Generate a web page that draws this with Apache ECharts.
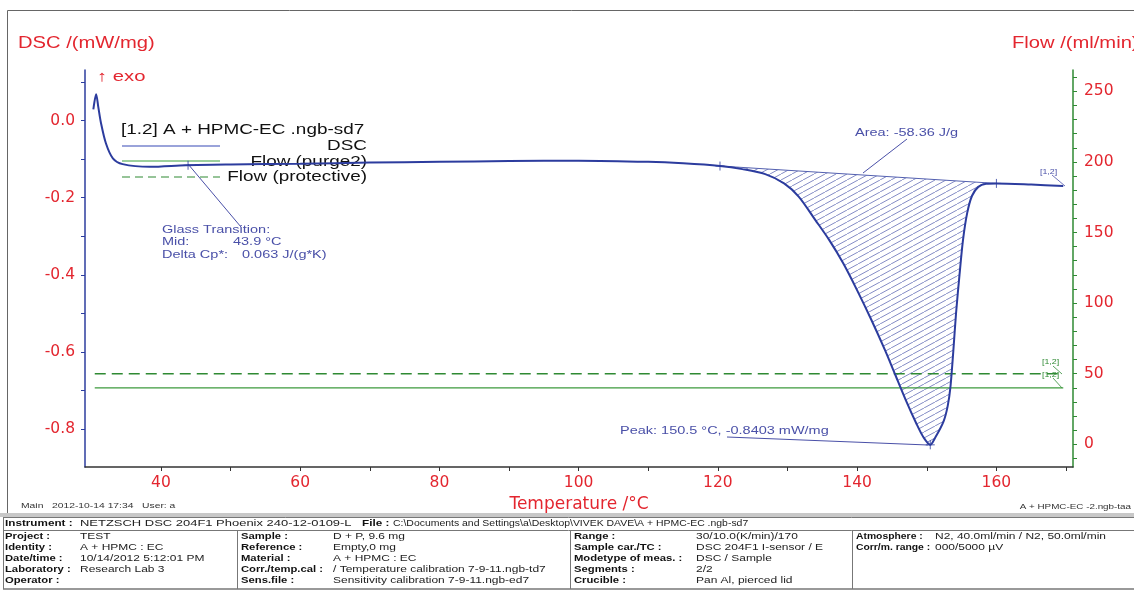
<!DOCTYPE html>
<html>
<head>
<meta charset="utf-8">
<script src="https://cdn.jsdelivr.net/npm/echarts@6/dist/echarts.min.js"></script>
<style>
  html, body { margin: 0; padding: 0; background: #fff; }
  #chart { width: 1134px; height: 590px; }
</style>
</head>
<body>
<div id="chart"></div>
<script>
  // DSC 曲线数据 (温度 °C, DSC mW/mg)
  const temps = [30.3, 30.7, 31.0, 31.4, 32.1, 33.1, 34.5, 38.4, 43.6, 50, 60, 70, 80, 90, 100, 110, 115,
    120.3, 123.5, 126.8, 129.5, 131.6, 134.0, 136.0, 138.0, 140.0, 142.0, 144.0, 145.5, 147.0, 148.5, 149.5, 150.5,
    151.2, 152.4, 153.0, 153.4, 153.8, 154.2, 154.7, 155.2, 155.8, 156.5, 157.4, 158.5, 160.0, 165, 169.6];
  const dscValues = [0.029, 0.068, 0.036, -0.007, -0.059, -0.098, -0.113, -0.12, -0.116, -0.114, -0.112, -0.109,
    -0.107, -0.105, -0.104, -0.107, -0.111,
    -0.118, -0.126, -0.139, -0.163, -0.197, -0.258, -0.31, -0.37, -0.44, -0.515, -0.595, -0.66, -0.725, -0.785, -0.82, -0.8403,
    -0.822, -0.78, -0.74, -0.69, -0.60, -0.50, -0.40, -0.31, -0.24, -0.195, -0.172, -0.164, -0.163, -0.166, -0.17];

  // 流量 (ml/min)
  const flowTemps = [30.5, 169.6];
  const purgeFlow = [40, 40];
  const protectiveFlow = [50, 50];

  // 积分区间 / 标记点
  const areaStart = 120.3;
  const areaEnd = 160.0;
  const markerTemps = [43.9, 120.3, 150.5, 160.0];
  const markerValues = [-0.116, -0.118, -0.8403, -0.163];

  // 刻度
  const xTicks = [40, 50, 60, 70, 80, 90, 100, 110, 120, 130, 140, 150, 160, 170];
  const xLabels = [40, 60, 80, 100, 120, 140, 160];
  const dscTicks = [-0.8, -0.7, -0.6, -0.5, -0.4, -0.3, -0.2, -0.1, 0.0, 0.1];
  const dscLabels = [-0.8, -0.6, -0.4, -0.2, 0.0];
  const flowTicks = [-10, 0, 10, 20, 30, 40, 50, 60, 70, 80, 90, 100, 110, 120, 130, 140, 150, 160, 170, 180, 190, 200, 210, 220, 230, 240, 250, 260];
  const flowLabels = [0, 50, 100, 150, 200, 250];

  // 表格文字
  const infoLabels1 = ['Project :', 'Identity :', 'Date/time :', 'Laboratory :', 'Operator :'];
  const infoValues1 = ['TEST', 'A + HPMC : EC', '10/14/2012 5:12:01 PM', 'Research Lab 3', ''];
  const infoLabels2 = ['Sample :', 'Reference :', 'Material :', 'Corr./temp.cal :', 'Sens.file :'];
  const infoValues2 = ['D + P, 9.6 mg', 'Empty,0 mg', 'A + HPMC : EC', '/ Temperature calibration 7-9-11.ngb-td7', 'Sensitivity calibration 7-9-11.ngb-ed7'];
  const infoLabels3 = ['Range :', 'Sample car./TC :', 'Modetype of meas. :', 'Segments :', 'Crucible :'];
  const infoValues3 = ['30/10.0(K/min)/170', 'DSC 204F1 I-sensor / E', 'DSC / Sample', '2/2', 'Pan Al, pierced lid'];
  const infoLabels4 = ['Atmosphere :', 'Corr/m. range :'];
  const infoValues4 = ['N2, 40.0ml/min / N2, 50.0ml/min', '000/5000 µV'];

  const FONT = "'Liberation Sans', Arial, sans-serif";
  const AXFONT = "'DejaVu Sans', sans-serif";
  const RED = '#e3262f';
  const BLUE = '#2c3c9e';
  const ANN = '#4a50a8';
  const GREEN = '#2f8a33';
  const SX = 1.26; // 原图文字横向拉伸

  // 斜线填充
  const HW = 11, HH = 6;
  const hatch = document.createElement('canvas');
  hatch.width = HW; hatch.height = HH;
  const hctx = hatch.getContext('2d');
  hctx.strokeStyle = '#5a64b2';
  hctx.lineWidth = 0.75;
  [-HW, 0, HW].forEach(off => {
    hctx.beginPath();
    hctx.moveTo(off, HH);
    hctx.lineTo(off + HW, 0);
    hctx.stroke();
  });

  const dscData = temps.map((t, i) => [t, dscValues[i]]);
  const areaData = dscData.filter(d => d[0] >= areaStart && d[0] <= areaEnd);

  function txt(x, y, text, size, color, align, weight, sx) {
    return {
      type: 'text', x: x, y: y, silent: true, scaleX: sx || SX,
      style: {
        text: text, fill: color, align: align || 'left', verticalAlign: 'middle',
        font: (weight || 'normal') + ' ' + size + 'px ' + FONT
      }
    };
  }
  function ln(x1, y1, x2, y2, color, w, dash) {
    return {
      type: 'line', silent: true,
      shape: { x1: x1, y1: y1, x2: x2, y2: y2 },
      style: { stroke: color, lineWidth: w || 1, lineDash: dash || null }
    };
  }

  let graphics = [
    // 外框
    { type: 'rect', silent: true, shape: { x: 7.5, y: 10.5, width: 1140, height: 503 }, style: { fill: 'none', stroke: '#666', lineWidth: 1 } },
    { type: 'rect', silent: true, shape: { x: 0, y: 513, width: 1134, height: 4 }, style: { fill: '#c8c8c8' } },
    txt(18, 44, 'DSC /(mW/mg)', 16, RED),
    txt(1012, 44, 'Flow /(ml/min)', 16, RED),
    txt(97, 77, '↑ exo', 15, RED, 'left', 'normal', 1.35),
    // 图例
    txt(121, 130, '[1.2] A + HPMC-EC .ngb-sd7', 15, '#111'),
    ln(122, 146, 220, 146, '#9aa3da', 2),
    txt(367, 146, 'DSC', 15, '#111', 'right'),
    ln(122, 161, 220, 161, '#9ccf9c', 2),
    txt(367, 162, 'Flow (purge2)', 15, '#111', 'right'),
    ln(122, 177, 220, 177, GREEN, 1.2, [8, 5]),
    txt(367, 177, 'Flow (protective)', 15, '#111', 'right'),
    // 玻璃化转变
    ln(188, 164, 241, 227, ANN, 1),
    txt(162, 230, 'Glass Transition:', 11.5, ANN),
    txt(162, 242, 'Mid:', 11.5, ANN),
    txt(233, 242, '43.9 °C', 11.5, ANN),
    txt(162, 255, 'Delta Cp*:', 11.5, ANN),
    txt(242, 255, '0.063 J/(g*K)', 11.5, ANN),
    // 面积 / 峰
    txt(855, 133, 'Area: -58.36 J/g', 11.5, ANN),
    ln(907, 139, 863, 173, ANN, 1),
    txt(620, 431, 'Peak: 150.5 °C, -0.8403 mW/mg', 11.5, ANN),
    ln(727, 437, 928, 445, ANN, 1),
    // [1,2] 标签
    txt(1040, 172, '[1,2]', 7, ANN),
    ln(1052, 175, 1065, 186, ANN, 0.8),
    txt(1042, 362, '[1,2]', 7, GREEN),
    ln(1053, 366, 1062, 374, GREEN, 0.8),
    txt(1042, 375, '[1,2]', 7, GREEN),
    ln(1053, 378, 1062, 388, GREEN, 0.8),
    // 底部信息
    txt(21, 506, 'Main   2012-10-14 17:34   User: a', 8, '#333', 'left', 'normal', 1.29),
    txt(1131, 507, 'A + HPMC-EC -2.ngb-taa', 8, '#333', 'right', 'normal', 1.23),
    // 表格
    ln(3, 517.5, 1134, 517.5, '#777', 1),
    ln(3, 530.5, 1134, 530.5, '#777', 1),
    ln(3, 589, 1134, 589, '#777', 1.5),
    ln(3.5, 517, 3.5, 589, '#777', 1),
    ln(237.5, 530, 237.5, 589, '#777', 1),
    ln(570.5, 530, 570.5, 589, '#777', 1),
    ln(852.5, 530, 852.5, 589, '#777', 1),
    txt(5, 524, 'Instrument :', 9, '#111', 'left', 'bold', 1.3),
    txt(80, 524, 'NETZSCH DSC 204F1 Phoenix 240-12-0109-L', 9, '#222', 'left', 'normal', 1.44),
    txt(362, 524, 'File :', 9, '#111', 'left', 'bold', 1.3),
    txt(393, 524, 'C:\\Documents and Settings\\a\\Desktop\\VIVEK DAVE\\A + HPMC-EC .ngb-sd7', 9, '#222', 'left', 'normal', 1.16)
  ];

  const rowY = [537, 548, 559, 570, 581];
  function addCol(labels, values, lx, vx, lsx) {
    labels.forEach((l, i) => {
      graphics.push(txt(lx, rowY[i], l, 9, '#111', 'left', 'bold', lsx || 1.25));
      if (values[i]) graphics.push(txt(vx, rowY[i], values[i], 9, '#222', 'left', 'normal', 1.33));
    });
  }
  addCol(infoLabels1, infoValues1, 5, 80);
  addCol(infoLabels2, infoValues2, 241, 333);
  addCol(infoLabels3, infoValues3, 574, 696);
  addCol(infoLabels4, infoValues4, 856, 935, 1.15);

  const myEcharts = echarts.init(document.getElementById('chart'), null, { renderer: 'canvas' });
  const option = {
    backgroundColor: '#fff',
    animation: false,
    grid: {
      left: 85, right: 61, top: 70, bottom: 123,
      containLabel: false, outerBoundsMode: 'none'
    },
    xAxis: {
      type: 'value', min: 29.1, max: 171,
      name: 'Temperature /°C', nameLocation: 'middle', nameGap: 19,
      nameTextStyle: { color: RED, fontSize: 17, fontFamily: AXFONT },
      axisLine: { show: true, onZero: false, lineStyle: { color: '#333', width: 1.5 } },
      axisTick: { show: true, customValues: xTicks, length: 4, lineStyle: { color: '#333' } },
      axisLabel: { customValues: xLabels, color: RED, fontSize: 15.5, fontFamily: AXFONT, margin: 8 },
      splitLine: { show: false }
    },
    yAxis: [
      {
        type: 'value', min: -0.8977, max: 0.1308, position: 'left',
        axisLine: { show: true, onZero: false, lineStyle: { color: BLUE, width: 1.5 } },
        axisTick: { show: true, customValues: dscTicks, length: 4, lineStyle: { color: BLUE } },
        axisLabel: {
          customValues: dscLabels, color: RED, fontSize: 15.5, fontFamily: AXFONT, margin: 10,
          formatter: v => v.toFixed(1)
        },
        splitLine: { show: false }
      },
      {
        type: 'value', min: -16.1, max: 265.1, position: 'right',
        axisLine: { show: true, onZero: false, lineStyle: { color: GREEN, width: 1.5 } },
        axisTick: { show: true, customValues: flowTicks, length: 4, lineStyle: { color: GREEN } },
        axisLabel: { customValues: flowLabels, color: RED, fontSize: 15.5, fontFamily: AXFONT, margin: 11 },
        splitLine: { show: false }
      }
    ],
    graphic: graphics,
    series: [
      {
        name: 'area', type: 'custom', coordinateSystem: 'cartesian2d', z: 1,
        data: [[areaStart, markerValues[1]]],
        renderItem: (params, api) => {
          const pts = areaData.map(d => api.coord(d));
          return {
            type: 'polygon',
            shape: { points: pts, smooth: 0 },
            style: { fill: { image: hatch, repeat: 'repeat' }, stroke: 'none' }
          };
        }
      },
      {
        name: 'baseline', type: 'line', z: 2, symbol: 'none',
        data: [areaData[0], areaData[areaData.length - 1]],
        lineStyle: { color: '#5360b0', width: 1 }
      },
      {
        name: 'DSC', type: 'line', z: 3, symbol: 'none',
        smooth: 0.3,
        data: dscData,
        lineStyle: { color: BLUE, width: 2 }
      },
      {
        name: 'Flow (purge2)', type: 'line', yAxisIndex: 1, symbol: 'none', z: 2,
        data: flowTemps.map((t, i) => [t, purgeFlow[i]]),
        lineStyle: { color: '#3c9a3c', width: 1.2 }
      },
      {
        name: 'Flow (protective)', type: 'line', yAxisIndex: 1, symbol: 'none', z: 2,
        data: flowTemps.map((t, i) => [t, protectiveFlow[i]]),
        lineStyle: { color: GREEN, width: 1.6, type: [11, 6] }
      },
      {
        name: 'markers', type: 'scatter', z: 4, silent: true,
        symbol: 'path://M5,0L5,10M0,5L10,5', symbolSize: 9,
        itemStyle: { color: 'none', borderColor: BLUE, borderWidth: 1 },
        data: markerTemps.map((t, i) => [t, markerValues[i]])
      }
    ]
  };
  myEcharts.setOption(option);
</script>
</body>
</html>
